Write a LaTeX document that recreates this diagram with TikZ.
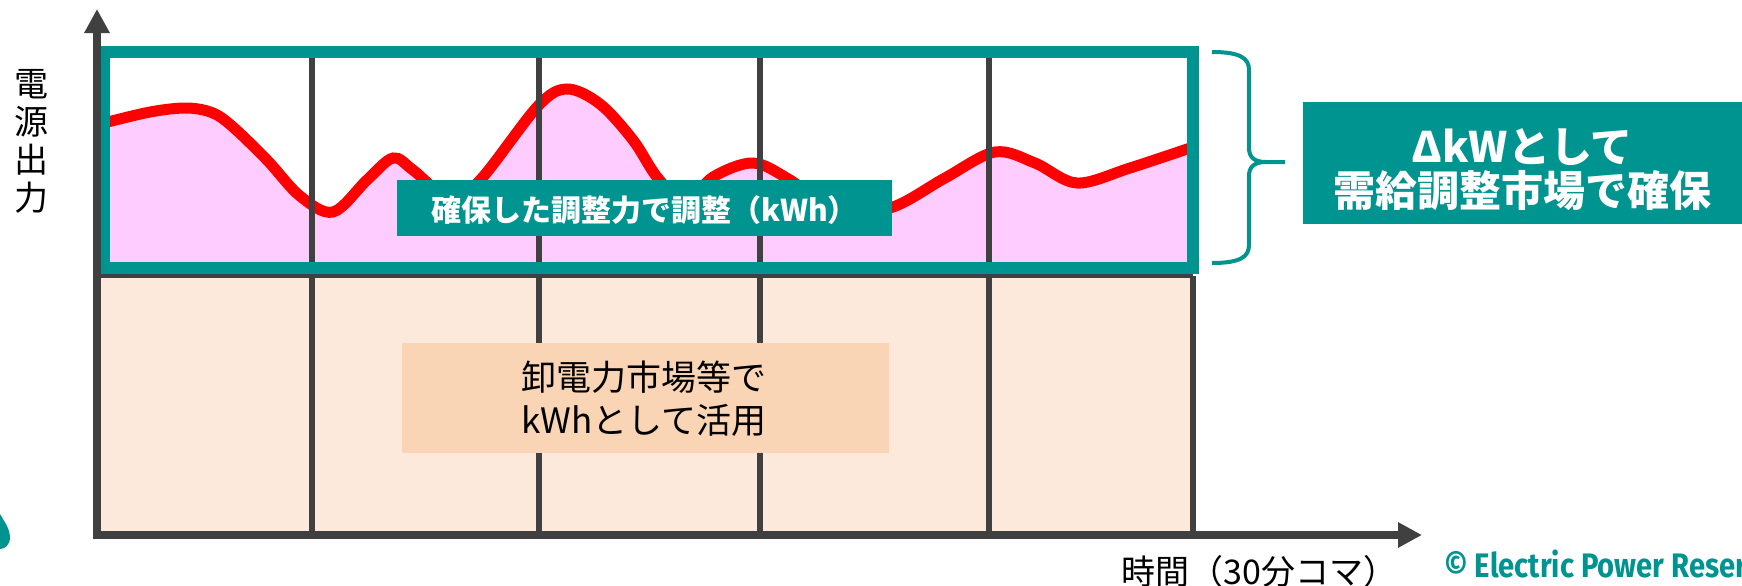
\documentclass[tikz,border=0pt]{standalone}
\usepackage{fontspec}
\setmainfont{Noto Sans CJK JP}
\newfontfamily\crfont{Fira Sans}[FakeStretch=0.86]
\usetikzlibrary{arrows.meta}
\definecolor{tealc}{RGB}{0,148,144}
\definecolor{axisgray}{RGB}{64,64,64}
\definecolor{pinkfill}{RGB}{255,204,255}
\definecolor{beigefill}{RGB}{252,233,219}
\definecolor{peachfill}{RGB}{250,213,181}
\begin{document}
\begin{tikzpicture}[x=0.5pt,y=-0.5pt,
  axisline/.style={draw=axisgray,line width=4.25pt,-{Triangle[length=12pt,width=12pt]}},
  gridline/.style={draw=axisgray,line width=2.75pt},
  boxnode/.style={inner sep=0pt,draw=none},
  txt/.style={inner sep=0pt,anchor=base}]
\useasboundingbox (0,0) rectangle (1742,585);
% lower grid background
\fill[beigefill] (97,275.5) rectangle (1193,535);
% upper area with curve
\begin{scope}
\clip (104,51.5) rectangle (1192.5,267.5);
\fill[white] (104,51.5) rectangle (1192.5,267.5);
\fill[pinkfill] plot[smooth,tension=0.55] coordinates {(100,124) (150,112) (187,108) (213,113) (233,127) (267,160) (300,196) (333,212) (367,180) (393,158) (413,170) (452,200) (482,178) (538,106) (567,89) (600,104) (633,140) (657,177) (685,203) (713,177) (753,163) (790,180) (840,214) (893,207) (945,178) (995,152) (1035,163) (1077,183) (1130,168) (1196,146)} -- (1196,280) -- (100,280) -- cycle;
\draw[red,line width=5.5pt] plot[smooth,tension=0.55] coordinates {(100,124) (150,112) (187,108) (213,113) (233,127) (267,160) (300,196) (333,212) (367,180) (393,158) (413,170) (452,200) (482,178) (538,106) (567,89) (600,104) (633,140) (657,177) (685,203) (713,177) (753,163) (790,180) (840,214) (893,207) (945,178) (995,152) (1035,163) (1077,183) (1130,168) (1196,146)};
\end{scope}
% grid lines
\foreach \gx in {312,539,760,989} {\draw[gridline] (\gx,51) -- (\gx,535);}
\draw[gridline,line width=2.5pt] (97,275.5) -- (1193,275.5);
\draw[gridline,line width=3pt] (1193,275.5) -- (1193,535);
% teal frame
\draw[tealc,line width=6pt] (104,51.5) rectangle (1192.5,267.5);
% axes
\coordinate (yorig) at (97,539);
\coordinate (ytip) at (97,9);
\coordinate (xorig) at (93,535);
\coordinate (xtip) at (1422,535);
\draw[axisline] (yorig) -- (ytip);
\draw[axisline] (xorig) -- (xtip);
% boxes
\node[boxnode,fill=tealc,minimum width=247.5pt,minimum height=28pt] (adjbox) at (644.5,208) {};
\node[txt,text=white,font=\fontsize{15}{18}\selectfont\bfseries] (adjtxt) at (644.5,221) {確保した調整力で調整（kWh）};
\node[boxnode,fill=peachfill,minimum width=243.5pt,minimum height=55pt] (kwhbox) at (645.5,398) {};
\node[txt,font=\fontsize{17.5}{21}\selectfont] (kwh1) at (644,390) {卸電力市場等で};
\node[txt,font=\fontsize{17.5}{21}\selectfont] (kwh2) at (644,433) {kWhとして活用};
% brace
\draw[tealc,line width=2pt] (1212,52) .. controls (1240,52) and (1249,58) .. (1249,70) -- (1249,148) .. controls (1249,157) and (1254,162) .. (1266,162) -- (1285,162);
\draw[tealc,line width=2pt] (1212,263) .. controls (1240,263) and (1249,257) .. (1249,245) -- (1249,176) .. controls (1249,167) and (1254,162) .. (1266,162);
% right box
\node[boxnode,fill=tealc,minimum width=223.5pt,minimum height=61pt] (dkwbox) at (1526.5,163) {};
\node[txt,text=white,font=\fontsize{21}{24}\selectfont\bfseries] (dkw1) at (1522,162) {ΔkWとして};
\node[txt,text=white,font=\fontsize{21}{24}\selectfont\bfseries] (dkw2) at (1522,206) {需給調整市場で確保};
% axis labels
\node[inner sep=0pt,align=center,font=\fontsize{17}{19}\selectfont] (ylabel) at (32,141) {電\\源\\出\\力};
\node[txt,anchor=base west,font=\fontsize{17}{19}\selectfont] (xlabel) at (1121,584) {時間（30分コマ）};
% copyright
\node[txt,anchor=base west,text=tealc,font=\crfont\bfseries\fontsize{17}{19}\selectfont] (copy) at (1444,577) {© Electric Power Reser};
% logo fragment
\fill[tealc] (0,514) .. controls (6,524) and (10,530) .. (10,537) .. controls (10,545) and (5,549) .. (0,549) -- cycle;
\end{tikzpicture}
\end{document}
